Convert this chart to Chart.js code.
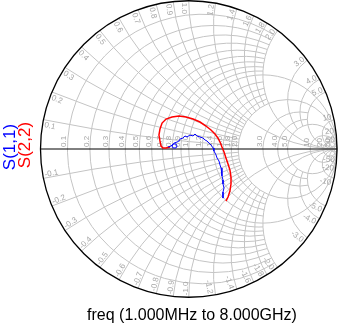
<!DOCTYPE html>
<html><head><meta charset="utf-8">
<script src="https://cdn.jsdelivr.net/npm/chart.js@4.4.1/dist/chart.umd.min.js"></script>
<style>html,body{margin:0;padding:0;background:#fff;}canvas{display:block;}</style>
</head><body>
<canvas id="c" width="339" height="326"></canvas>
<script>
// Smith chart grid values (normalised resistance / reactance)
const rValues = [0.1,0.2,0.3,0.4,0.5,0.6,0.7,0.8,0.9,1.0,1.2,1.4,1.6,1.8,2.0,3.0,4.0,5.0,10,20,50];
const rTickLabels = ["0.1","0.2","0.3","0.4","0.5","0.6","0.7","0.8","0.9","1.0","1.2","1.4","1.6","1.8","2.0","3.0","4.0","5.0","10","20","50"];
const rGridLimit = [2,2,2,2,2,2,2,2,2,Infinity,2,2,2,2,Infinity,5,5,Infinity,Infinity,Infinity,Infinity];
const xValues = [0.1,0.2,0.3,0.4,0.5,0.6,0.7,0.8,0.9,1.0,1.2,1.4,1.6,1.8,2.0,3.0,4.0,5.0,10,20,50];
const xTickLabels = ["0.1","0.2","0.3","0.4","0.5","0.6","0.7","0.8","0.9","1.0","1.2","1.4","1.6","1.8","2.0","3.0","4.0","5.0","10","20","50"];
const xGridLimit = [2,2,2,2,2,2,2,2,2,Infinity,2,2,2,2,Infinity,5,5,Infinity,Infinity,Infinity,Infinity];

// S(1,1) reflection coefficient, 1 MHz -> 8 GHz (real / imaginary)
const s11Re = [-0.140,-0.120,-0.106,-0.086,-0.079,-0.086,-0.106,-0.113,-0.099,-0.079,-0.066,-0.059,-0.039,-0.025,-0.012,0.008,0.029,0.042,0.056,0.076,0.096,0.110,0.123,0.137,0.150,0.164,0.170,0.184,0.191,0.204,0.211,0.218,0.224,0.224,0.231,0.231,0.238,0.231,0.231,0.231];
const s11Im = [0.013,0.020,0.034,0.034,0.020,0.007,0.007,0.020,0.040,0.047,0.054,0.067,0.074,0.088,0.081,0.094,0.088,0.101,0.088,0.081,0.074,0.061,0.054,0.040,0.027,0.007,-0.013,-0.040,-0.061,-0.081,-0.108,-0.128,-0.155,-0.182,-0.209,-0.236,-0.263,-0.290,-0.310,-0.331];
// S(2,2)
const s22Re = [-0.126,-0.153,-0.174,-0.187,-0.194,-0.201,-0.194,-0.180,-0.153,-0.113,-0.066,-0.019,0.029,0.076,0.116,0.150,0.177,0.197,0.211,0.224,0.238,0.251,0.265,0.278,0.285,0.285,0.278,0.265,0.251];
const s22Im = [0.013,0.007,0.007,0.020,0.054,0.094,0.135,0.175,0.202,0.216,0.223,0.216,0.202,0.182,0.155,0.128,0.101,0.074,0.047,0.013,-0.020,-0.061,-0.101,-0.142,-0.189,-0.236,-0.283,-0.324,-0.351];

const seriesNames = ["S(1,1)","S(2,2)"];
const xAxisTitle = "freq (1.000MHz to 8.000GHz)";

function gam(r, x){ const d=(r+1)*(r+1)+x*x; return [(r*r+x*x-1)/d, 2*x/d]; }

const smithPlugin = {
  id:'smith',
  beforeDatasetsDraw(chart){
    const ctx = chart.ctx, sx = chart.scales.x, sy = chart.scales.y;
    const px = v=>sx.getPixelForValue(v), py = v=>sy.getPixelForValue(v);
    const k = px(1)-px(0);
    ctx.save();
    ctx.strokeStyle = '#c4c4c4'; ctx.lineWidth = 1;
    // resistance circles
    rValues.forEach((r,i)=>{
      const c = r/(1+r), rho = 1/(1+r), X = rGridLimit[i];
      ctx.beginPath();
      if (!isFinite(X)) { ctx.arc(px(c), py(0), rho*k, 0, Math.PI*2); }
      else {
        const g = gam(r, X); const th = Math.atan2(g[1], g[0]-c);
        ctx.arc(px(c), py(0), rho*k, -th, th, true);
      }
      ctx.stroke();
    });
    // reactance arcs
    xValues.forEach((xv,i)=>{
      const R = xGridLimit[i];
      [1,-1].forEach(s=>{
        const x = xv*s, cy = 1/x, rad = 1/Math.abs(x);
        const B = gam(0,x); const E = isFinite(R)? gam(R,x) : [1,0];
        const fB = Math.atan2(B[1]-cy, B[0]-1), fE = Math.atan2(E[1]-cy, E[0]-1);
        ctx.beginPath();
        ctx.arc(px(1), py(cy), rad*k, -fB, -fE, s>0);
        ctx.stroke();
      });
    });
    // labels
    ctx.fillStyle = '#a6a6a6'; ctx.font = '8px "Liberation Sans", Arial, sans-serif';
    rValues.forEach((r,i)=>{
      const g = (r-1)/(r+1);
      ctx.save(); ctx.translate(px(g)-1, py(0)-2); ctx.rotate(-Math.PI/2);
      ctx.textAlign='left'; ctx.textBaseline='alphabetic';
      ctx.fillText(rTickLabels[i], 0, 0); ctx.restore();
    });
    const cx0 = px(0), cy0 = py(0);
    xValues.forEach((xv,i)=>{
      [1,-1].forEach(s=>{
        const x = xv*s; const B = gam(0,x);
        const bx = px(B[0]), by = py(B[1]);
        let ux = cx0-bx, uy = cy0-by; const L = Math.hypot(ux,uy); ux/=L; uy/=L;
        const phi = Math.atan2(B[1],B[0]);
        let tx, ty;
        if (s>0){ tx = -Math.sin(phi); ty = -Math.cos(phi); } else { tx = Math.sin(phi); ty = Math.cos(phi); }
        let th = Math.atan2(uy,ux), align='left';
        if (Math.abs(th) > Math.PI/2+1e-6){ th += Math.PI; align='right'; }
        const dx = -Math.sin(th), dy = Math.cos(th);
        const base = (dx*tx+dy*ty) > 0 ? 'top' : 'alphabetic';
        ctx.save();
        ctx.translate(bx+ux*2+tx*1, by+uy*2+ty*1);
        ctx.rotate(th);
        ctx.textAlign = align; ctx.textBaseline = base;
        ctx.fillText((s<0?'-':'')+xTickLabels[i], 0, 0);
        ctx.restore();
      });
    });
    // outer circle and real axis
    ctx.strokeStyle = '#000'; ctx.lineWidth = 1.3;
    ctx.beginPath(); ctx.arc(cx0, cy0, k, 0, Math.PI*2); ctx.stroke();
    ctx.lineWidth = 1;
    ctx.beginPath(); ctx.moveTo(px(-1), cy0); ctx.lineTo(px(1), cy0); ctx.stroke();
    ctx.restore();
  },
  afterDraw(chart){
    const ctx = chart.ctx;
    ctx.save();
    ctx.font = '16px "Liberation Sans", Arial, sans-serif';
    ctx.fillStyle = '#000'; ctx.textAlign='center'; ctx.textBaseline='alphabetic';
    ctx.fillText(xAxisTitle, 192, 320);
    ctx.font = '17px "Liberation Sans", Arial, sans-serif';
    ctx.textAlign='center';
    ctx.save(); ctx.translate(15, 147); ctx.rotate(-Math.PI/2);
    ctx.fillStyle='#0000ff'; ctx.fillText(seriesNames[0], 0, 0); ctx.restore();
    ctx.save(); ctx.translate(30, 145); ctx.rotate(-Math.PI/2);
    ctx.fillStyle='#ff0000'; ctx.fillText(seriesNames[1], 0, 0); ctx.restore();
    ctx.restore();
  }
};

new Chart(document.getElementById('c'), {
  type:'scatter',
  data:{datasets:[
    {label:seriesNames[0], data:s11Re.map((v,i)=>({x:v,y:s11Im[i]})), showLine:true, borderColor:'#0000ff', borderWidth:1, pointRadius:0, tension:0, fill:false, order:0},
    {label:seriesNames[1], data:s22Re.map((v,i)=>({x:v,y:s22Im[i]})), showLine:true, borderColor:'#ff0000', borderWidth:1.5, pointRadius:0, tension:0, fill:false, order:1}
  ]},
  options:{
    responsive:false, animation:false, devicePixelRatio:1, events:[],
    layout:{padding:{left:40.5,right:2,top:0.75,bottom:28.75}},
    scales:{x:{type:'linear',min:-1,max:1,display:false}, y:{type:'linear',min:-1,max:1,display:false}},
    plugins:{legend:{display:false}, tooltip:{enabled:false}}
  },
  plugins:[smithPlugin]
});
</script>
</body></html>
